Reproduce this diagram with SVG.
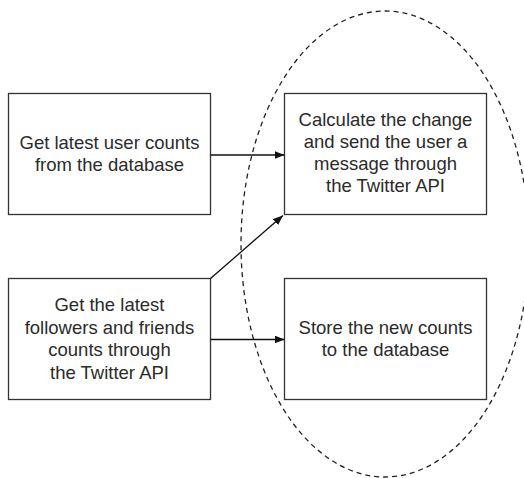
<svg xmlns="http://www.w3.org/2000/svg" width="524" height="478" viewBox="0 0 524 478">
<style>
.box{fill:#fff;stroke:#333;stroke-width:1.3}
.lbl{font-family:"Liberation Sans",Arial,sans-serif;font-size:18.5px;fill:#2b2b2b;text-anchor:middle}
.conn{stroke:#111;stroke-width:1.3;fill:none}
.group{fill:none;stroke:#222;stroke-width:1.3;stroke-dasharray:5 4}
</style>
<defs>
<marker id="arr" viewBox="0 0 10 8" refX="10" refY="4" markerWidth="10" markerHeight="8" markerUnits="userSpaceOnUse" orient="auto">
<path d="M0,0 L10,4 L0,8 Z" fill="#111"/>
</marker>
</defs>
<rect width="524" height="478" fill="#fff"/>
<g id="n1">
<rect class="box" x="8.5" y="93.5" width="202" height="121"/>
<text class="lbl" x="109.5" y="148.5">Get latest user counts</text>
<text class="lbl" x="109.5" y="170.5">from the database</text>
</g>
<g id="n2">
<rect class="box" x="284.5" y="93.5" width="202" height="121"/>
<text class="lbl" x="385.5" y="125.5">Calculate the change</text>
<text class="lbl" x="385.5" y="147.5">and send the user a</text>
<text class="lbl" x="385.5" y="169.5">message through</text>
<text class="lbl" x="385.5" y="191.5">the Twitter API</text>
</g>
<g id="n3">
<rect class="box" x="8.5" y="278.5" width="202" height="121"/>
<text class="lbl" x="109.5" y="311">Get the latest</text>
<text class="lbl" x="109.5" y="333.5">followers and friends</text>
<text class="lbl" x="109.5" y="356">counts through</text>
<text class="lbl" x="109.5" y="378.5">the Twitter API</text>
</g>
<g id="n4">
<rect class="box" x="284.5" y="278.5" width="202" height="121"/>
<text class="lbl" x="385.5" y="334">Store the new counts</text>
<text class="lbl" x="385.5" y="356">to the database</text>
</g>
<g id="connectors">
<line class="conn" x1="210.5" y1="155" x2="284.5" y2="155" marker-end="url(#arr)"/>
<line class="conn" x1="210.5" y1="339.5" x2="284.5" y2="339.5" marker-end="url(#arr)"/>
<line class="conn" x1="210.5" y1="278.5" x2="283" y2="215.5" marker-end="url(#arr)"/>
</g>
<g id="group">
<ellipse class="group" cx="385" cy="244" rx="144" ry="233"/>
</g>
</svg>
